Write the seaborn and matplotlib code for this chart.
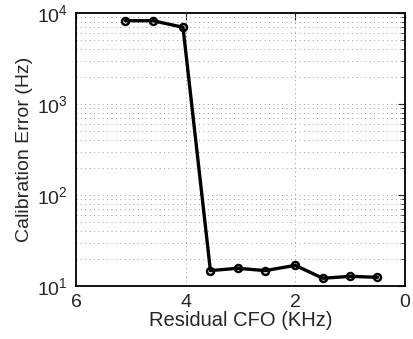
import numpy as np
import pandas as pd
import matplotlib
matplotlib.use("Agg")
import matplotlib.pyplot as plt
import seaborn as sns

# Dữ liệu
residual_cfo = [5.1, 4.6, 4.05, 3.55, 3.05, 2.55, 2.0, 1.5, 1.0, 0.5]
calib_error = [8200, 8200, 6950, 14.8, 15.7, 14.8, 16.9, 12.2, 12.8, 12.5]

df = pd.DataFrame({"cfo": residual_cfo, "err": calib_error})

sns.set_style("white")
plt.rcParams["font.family"] = ["Liberation Sans", "DejaVu Sans"]
plt.rcParams["mathtext.fontset"] = "custom"
plt.rcParams["mathtext.rm"] = "Liberation Sans"

fig = plt.figure(figsize=(4.14, 3.39), dpi=100)
ax = fig.add_axes([0.184, 0.156, 0.794, 0.806])

# Lưới chấm kiểu MATLAB
grid_kw = dict(linestyle=(0, (1, 3.5)), color="#9a9a9a", linewidth=0.7)
ax.set_yscale("log")
ax.grid(True, which="major", **grid_kw)
ax.grid(True, which="minor", axis="y", **grid_kw)
ax.set_axisbelow(True)

sns.lineplot(data=df, x="cfo", y="err", ax=ax, color="black", linewidth=2.4,
             marker="o", markersize=5, markerfacecolor="none",
             markeredgecolor="black", markeredgewidth=1.8, sort=False)

ax.set_ylim(10, 1e4)
ax.set_xlim(6, 0)
ax.set_xticks([6, 4, 2, 0])

ax.tick_params(which="both", direction="in", top=True, right=True, labelsize=14)
ax.tick_params(which="major", length=5, pad=6)
ax.tick_params(which="minor", axis="y", length=3)
for s in ax.spines.values():
    s.set_linewidth(1.3)
    s.set_color("black")

ax.set_xlabel("Residual CFO (KHz)", fontsize=14.5, labelpad=0)
ax.set_ylabel("Calibration Error (Hz)", fontsize=14, labelpad=3)

fig.savefig("out.png", dpi=100)
